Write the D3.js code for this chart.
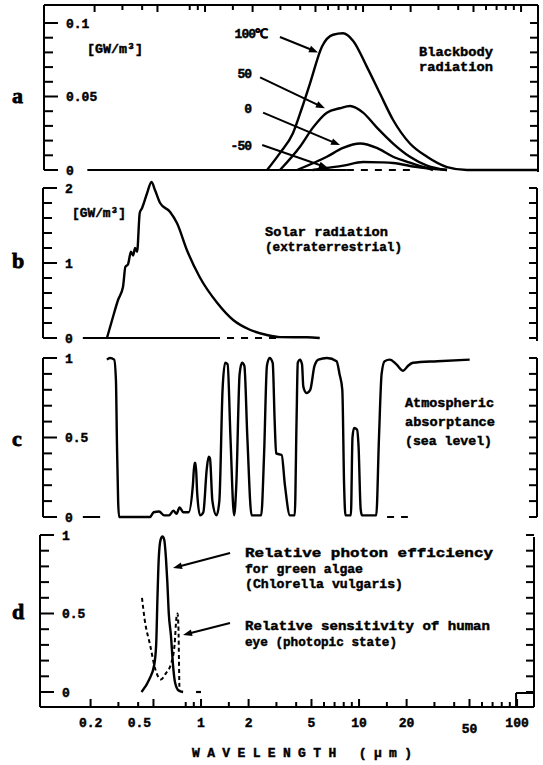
<!DOCTYPE html>
<html><head><meta charset="utf-8">
<script src="https://cdn.jsdelivr.net/npm/d3@7/dist/d3.min.js"></script>
<style>
body{margin:0;background:#fff;overflow:hidden}
svg{display:block}
svg text{font-family:"Liberation Mono","DejaVu Sans Mono",monospace;font-weight:bold;fill:#000;stroke:#000;stroke-width:0.45px}
</style>
</head><body>
<svg id="chart" width="543" height="765"></svg>
<script>
// ---------------- DATA ----------------
const xTickValues = [0.2,0.3,0.4,0.5,0.8,0.9,1,1.5,2,3,4,5,6,7,8,9,10,15,20,30,40,50,60,70,80,90,100];
const xLabelValues = [0.2,0.5,1,2,5,10,20,50,100];
const xTickLabels = ["0.2","0.5","1","2","5","10","20","50","100"];

// panel a: blackbody radiation [GW/m3]
const bb100 = [[2.47,0],[3.0,0.012],[3.6,0.025],[4.1,0.042],[4.62,0.059],[5.5,0.084],[6.46,0.092],[7.47,0.093],[8.64,0.088],[10.6,0.070],[12.8,0.052],[15.5,0.034],[19.8,0.018],[25.4,0.009],[34,0.002],[45.5,0],[126,0]];
const bb50 = [[2.98,0],[4.0,0.016],[4.83,0.029],[5.9,0.039],[7.14,0.042],[8.28,0.0435],[10.0,0.039],[12.2,0.029],[15.5,0.018],[19.8,0.009],[25.4,0.003],[34,0]];
const bb0 = [[3.82,0],[5.9,0.009],[7.47,0.015],[9.6,0.018],[12.2,0.015],[15.5,0.009],[19.8,0.005],[27.7,0]];
const bbm50 = [[4.8,0],[5.9,0.0014],[7.5,0.003],[10.0,0.0054],[13,0.0052],[15.5,0.0048],[22,0.002],[34,0]];
const bbLabels = ["100\u2103","50","0","-50"];
const aZeroSolid = [0.18,7.9];
const aZeroDashed = [7.9,20];

// panel b: solar radiation (extraterrestrial) [GW/m3]
const solar = [[0.243,0],[0.262,0.24],[0.286,0.51],[0.307,0.68],[0.318,0.95],[0.33,0.98],[0.345,1.15],[0.356,1.1],[0.366,1.2],[0.377,1.15],[0.392,1.67],[0.405,1.73],[0.436,1.93],[0.465,2.08],[0.49,1.97],[0.527,1.8],[0.61,1.68],[0.675,1.53],[0.78,1.17],[0.94,0.81],[1.21,0.47],[1.53,0.24],[1.95,0.11],[2.5,0.04],[3.03,0.012],[4.5,0.01],[5.4,0]];
const bZeroSolid = [0.171,1.14];
const bZeroDashed = [1.14,3.0];

// panel c: atmospheric absorptance (sea level)
const absorb = [[0.243,0.99],[0.254,1.0],[0.27,0.99],[0.277,0.86],[0.281,0.48],[0.286,0.1],[0.29,0.0],[0.455,0.0],[0.48,0.03],[0.52,0.035],[0.56,0.01],[0.6,0.01],[0.64,0.04],[0.67,0.02],[0.7,0.06],[0.74,0.03],[0.8,0.03],
 [0.85,0.2],[0.87,0.34],[0.885,0.34],[0.905,0.15],[0.944,0.01],
 [0.99,0.03],[1.04,0.3],[1.07,0.38],[1.09,0.37],[1.13,0.1],[1.2,0.01],
 [1.25,0.1],[1.31,0.8],[1.36,0.97],[1.41,0.96],[1.47,0.5],[1.55,0.01],
 [1.6,0.2],[1.68,0.9],[1.74,0.97],[1.8,0.95],[1.88,0.5],[2.0,0.01],[2.3,0.01],
 [2.4,0.4],[2.5,0.95],[2.6,1.0],[2.72,0.97],[2.8,0.6],[2.86,0.4],[3.1,0.39],[3.25,0.2],[3.5,0.01],[3.75,0.01],
 [3.85,0.6],[3.92,0.97],[4.05,0.99],[4.17,0.96],[4.25,0.82],[4.45,0.78],[4.7,0.8],[5.0,0.95],[5.3,0.99],[6.0,1.0],[6.9,0.98],[7.2,0.9],[7.5,0.8],[7.7,0.2],[7.85,0.01],
 [8.5,0.01],[8.7,0.5],[8.9,0.56],[9.3,0.55],[9.5,0.45],[9.8,0.05],[10.0,0.01],
 [12.3,0.01],[12.8,0.5],[13.3,0.9],[13.9,0.98],[15,0.99],[16.5,0.96],[18.2,0.92],[19.5,0.95],[21,0.97],[30,0.98],[48,0.99]];
const cZeroSolid = [0.171,0.22];
const cZeroDashed = [14.4,19.5];

// panel d: relative photon efficiency (Chlorella) and eye sensitivity
const photon = [[0.42,0],[0.47,0.08],[0.505,0.17],[0.52,0.3],[0.53,0.6],[0.54,0.85],[0.555,0.97],[0.57,0.99],[0.585,0.97],[0.6,0.85],[0.612,0.7],[0.625,0.5],[0.645,0.36],[0.665,0.17],[0.685,0.06],[0.72,0.01],[0.77,0]];
const eye = [[0.423,0.6],[0.44,0.46],[0.476,0.3],[0.512,0.15],[0.558,0.08],[0.6,0.12],[0.646,0.18],[0.68,0.3],[0.7,0.48],[0.71,0.5],[0.72,0.4],[0.725,0.2],[0.73,0.01]];
const dZeroDashed = [0.93,1.0];

// y ticks
const aTicks = d3.range(0,0.1001,0.01), aLabels=[[0.1,"0.1"],[0.05,"0.05"],[0,"0"]];
const bTicks = d3.range(0,2.001,0.2),  bLabels=[[2,"2"],[1,"1"],[0,"0"]];
const cTicks = d3.range(0,1.001,0.1),  cLabels=[[1,"1"],[0.5,"0.5"],[0,"0"]];
const dTicks = d3.range(0,1.001,0.1),  dLabels=[[1,"1"],[0.5,"0.5"],[0,"0"]];

// ---------------- DRAW ----------------
const svg = d3.select("#chart");
const x = d3.scaleLog().domain([0.0957,128]).range([40,534]);
const X0 = 40, X1 = 534;
const rects = [];   // frame pieces as filled rectangles [x,y,w,h]
const vr = (xx,y1,y2)=>rects.push([xx-1,Math.min(y1,y2),2,Math.abs(y2-y1)]);
const hr = (x1,x2,yy)=>rects.push([Math.min(x1,x2),yy-1,Math.abs(x2-x1),2]);

function panel(o){
  const g = svg.append("g").attr("transform",`translate(${o.dx},0)`);
  const y = d3.scaleLinear().domain(o.domain).range(o.range);
  const line = d3.line().x(d=>x(d[0])).y(d=>y(d[1])).curve(d3.curveMonotoneX);
  const isMajor = t=>o.labels.some(l=>Math.abs(l[0]-t)<1e-9);
  vr(X0+o.dx,o.top,o.bottom);
  o.ticks.forEach(t=>hr(X0+o.dx,X0+o.dx+(isMajor(t)?14:9),y(t)));
  vr(X1+o.dx,o.rtop,o.rbottom);
  o.ticks.forEach(t=>hr(X1+o.dx-8,X1+o.dx,y(t)));
  o.labels.forEach(l=>{
    g.append("text").attr("x",X0+22).attr("y",y(l[0])).attr("dy","0.36em")
      .attr("font-size",13).text(l[1]);
  });
  if(o.zeroSolid) hr(x(o.zeroSolid[0])+o.dx,x(o.zeroSolid[1])+o.dx,y(0));
  if(o.zeroDashed) g.append("path").attr("d",`M${x(o.zeroDashed[0])},${y(0)}H${x(o.zeroDashed[1])}`)
     .attr("stroke","#000").attr("stroke-width",2.2).attr("fill","none").attr("stroke-dasharray","7,7");
  o.series.forEach(s=>{
    const p = g.append("path").attr("d",line(s.data)).attr("fill","none").attr("stroke","#000")
      .attr("stroke-width",s.w||2.4).attr("stroke-linejoin","round");
    if(s.dash) p.attr("stroke-dasharray",s.dash);
  });
  g.append("text").attr("x",-o.dx+12).attr("y",o.letterY).attr("font-size",22)
    .style("font-family","'Liberation Serif',serif").style("stroke-width","0.8px").text(o.letter);
  (o.notes||[]).forEach(n=>{
    const t = g.append("text").attr("x",n[0]).attr("y",n[1]).attr("dy","0.36em")
      .attr("font-size",13).text(n[2]);
    if(n[3]) t.attr("textLength",n[3]).attr("lengthAdjust","spacingAndGlyphs");
  });
  (o.arrows||[]).forEach(a=>{
    const x1=x(a[0]),y1=y(a[1]),x2=x(a[2]),y2=y(a[3]);
    const ang=Math.atan2(y2-y1,x2-x1), L=9, Wd=3.4;
    g.append("path").attr("d",`M${x1},${y1}L${x2-Math.cos(ang)*5},${y2-Math.sin(ang)*5}`)
      .attr("stroke","#000").attr("stroke-width",2).attr("fill","none");
    const bx=x2-Math.cos(ang)*L, by=y2-Math.sin(ang)*L;
    g.append("path").attr("fill","#000")
      .attr("d",`M${x2},${y2}L${bx-Math.sin(ang)*Wd},${by+Math.cos(ang)*Wd}L${bx+Math.sin(ang)*Wd},${by-Math.cos(ang)*Wd}Z`);
  });
  return {g,y};
}

// panel a
const A = panel({dx:4,domain:[0,0.1],range:[170,23],top:5,bottom:170,rtop:5,rbottom:172,
  ticks:aTicks,labels:aLabels,letter:"a",letterY:103,
  zeroSolid:aZeroSolid,zeroDashed:aZeroDashed,
  series:[{data:bb100},{data:bb50},{data:bb0},{data:bbm50}],
  notes:[[415,51,"Blackbody",74],[415,66,"radiation",74],[83,48,"[GW/m\u00B3]",56]],
  arrows:[[2.98,0.0905,5.19,0.080],[2.23,0.063,5.74,0.042],[2.33,0.039,7.15,0.017],[2.30,0.017,6.0,0.0014]]
});
hr(X0+4,X1+4,5);
xTickValues.forEach(v=>vr(x(v)+4,5,5+(xLabelValues.includes(v)?7:5)));
const bbLabelPos = [[263,33],[247,73],[247,108],[247,145]];
bbLabels.forEach((t,i)=>A.g.append("text").attr("x",bbLabelPos[i][0]).attr("y",bbLabelPos[i][1]).attr("dy","0.36em")
  .attr("text-anchor","end").attr("font-size",13).style("letter-spacing","-1px").text(t));

// panel b
panel({dx:3,domain:[0,2],range:[338,188],top:188,bottom:338,rtop:188,rbottom:341,
  ticks:bTicks,labels:bLabels,letter:"b",letterY:268,
  zeroSolid:bZeroSolid,zeroDashed:bZeroDashed,
  series:[{data:solar}],
  notes:[[262,231,"Solar radiation",123],[262,246,"(extraterrestrial)",137],[69,212,"[GW/m\u00B3]",54]]
});

// panel c
panel({dx:3,domain:[0,1],range:[517,358],top:358,bottom:517,rtop:358,rbottom:517,
  ticks:cTicks,labels:cLabels,letter:"c",letterY:446,
  zeroSolid:cZeroSolid,zeroDashed:cZeroDashed,
  series:[{data:absorb}],
  notes:[[402,402,"Atmospheric",89],[402,421,"absorptance",90],[402,440,"(sea level)",87]]
});

// panel d
const D = panel({dx:0,domain:[0,1],range:[692,535],top:535,bottom:707,rtop:537,rbottom:707,
  ticks:dTicks,labels:dLabels,letter:"d",letterY:619,
  zeroDashed:dZeroDashed,
  series:[{data:photon},{data:eye,dash:"4,3",w:2}],
  notes:[[245,552,"Relative photon efficiency",248],[245,568,"for green algae",118],[245,583,"(Chlorella vulgaris)",158],
         [245,625,"Relative sensitivity of human",245],[245,641,"eye (photopic state)",152]],
  arrows:[[1.526,0.885,0.665,0.79],[1.526,0.44,0.769,0.363]]
});
hr(X0,X1,707);
xTickValues.forEach(v=>vr(x(v),707,707-(xLabelValues.includes(v)?8:5)));
vr(x(100)-1,693,707); hr(x(100)-1,X1,693);
xLabelValues.forEach((v,i)=>{
  const lab = xTickLabels[i];
  const shift = lab==="0.5"?-14:0, drop = lab==="50"?6:0;
  D.g.append("text").attr("x",x(v)+shift).attr("y",722+drop).attr("dy","0.36em").attr("text-anchor","middle")
   .attr("font-size",13).text(lab);
});
svg.append("text").attr("x",192).attr("y",752).attr("dy","0.36em").attr("font-size",13)
  .attr("textLength",220).attr("lengthAdjust","spacing")
  .text("WAVELENGTH (\u03BCm)");

// frames, ticks and brackets drawn last
svg.selectAll("rect.frame").data(rects).join("rect").attr("class","frame")
  .attr("x",d=>d[0]).attr("y",d=>d[1]).attr("width",d=>Math.max(d[2],2)).attr("height",d=>Math.max(d[3],2)).attr("fill","#000");
</script>
</body></html>
